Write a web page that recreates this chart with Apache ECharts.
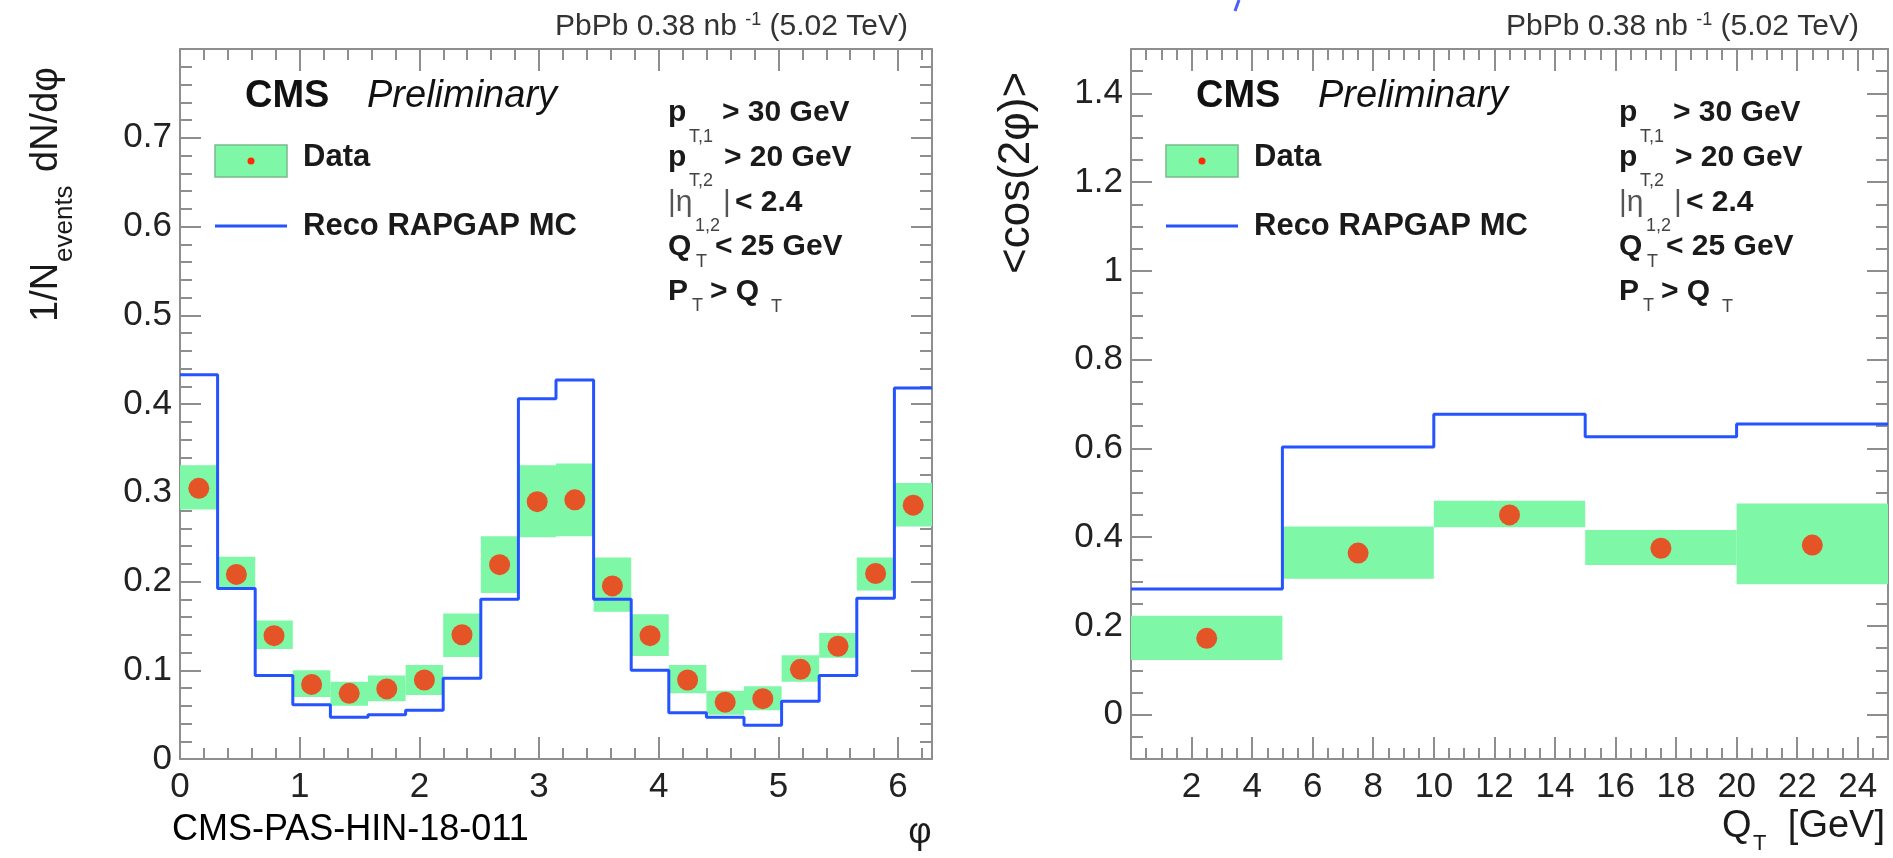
<!DOCTYPE html>
<html><head><meta charset="utf-8">
<script src="https://cdn.jsdelivr.net/npm/echarts@6/dist/echarts.min.js"></script>
<style>html,body{margin:0;padding:0;background:#fff}#c{width:1893px;height:858px}</style>
</head><body><div id="c"></div>
<script>
// ---------------- data ----------------
// left panel: 20 bins in phi over [0, 2pi]
const phiBinCount = 20;
const phiData     = [0.305, 0.208, 0.139, 0.084, 0.074, 0.079, 0.089, 0.140, 0.219, 0.290,
                     0.292, 0.195, 0.139, 0.089, 0.064, 0.068, 0.101, 0.127, 0.209, 0.286];
const phiDataLow  = [0.281, 0.192, 0.124, 0.070, 0.060, 0.065, 0.072, 0.115, 0.187, 0.250,
                     0.251, 0.166, 0.116, 0.074, 0.050, 0.055, 0.087, 0.114, 0.190, 0.262];
const phiDataHigh = [0.331, 0.228, 0.156, 0.100, 0.087, 0.094, 0.106, 0.164, 0.251, 0.331,
                     0.333, 0.227, 0.163, 0.106, 0.077, 0.082, 0.117, 0.142, 0.227, 0.311];
const phiMC       = [0.433, 0.192, 0.094, 0.061, 0.047, 0.050, 0.055, 0.091, 0.180, 0.406,
                     0.427, 0.180, 0.100, 0.052, 0.047, 0.038, 0.065, 0.094, 0.181, 0.418];
const phiXTicks = [0, 1, 2, 3, 4, 5, 6];
const phiYTicks = [0, 0.1, 0.2, 0.3, 0.4, 0.5, 0.6, 0.7];

// right panel: QT bins
const qtEdges    = [0, 5, 10, 15, 20, 25];
const qtData     = [0.172, 0.364, 0.450, 0.375, 0.382];
const qtDataLow  = [0.123, 0.306, 0.422, 0.337, 0.294];
const qtDataHigh = [0.223, 0.424, 0.482, 0.416, 0.476];
const qtMC       = [0.283, 0.603, 0.677, 0.626, 0.655];
const qtXTicks = [2, 4, 6, 8, 10, 12, 14, 16, 18, 20, 22, 24];
const cosYTicks = [0, 0.2, 0.4, 0.6, 0.8, 1, 1.2, 1.4];

// ---------------- helpers ----------------
const FONT = "'Liberation Sans', Arial, Helvetica, sans-serif";
const GRAY = '#8e8e8e';
const GREEN = '#7ef7a7';
const RED = '#ff2a06';
const BLUE = '#2453ff';
const TXT = '#1a1a1a';

const phiEdges = Array.from({length: phiBinCount + 1}, (_, i) => i * 2 * Math.PI / phiBinCount);

function bandRows(edges, lo, hi) { return lo.map((v, i) => [edges[i], edges[i + 1], v, hi[i]]); }
function stepPts(edges, vals) { const p = []; vals.forEach((v, i) => { p.push([edges[i], v], [edges[i + 1], v]); }); return p; }
function centers(edges, vals) { return vals.map((v, i) => [(edges[i] + edges[i + 1]) / 2, v]); }

const ctx = document.createElement('canvas').getContext('2d');
function tw(text, size, o = {}) {
  ctx.font = `${o.italic ? 'italic' : 'normal'} ${o.bold ? 'bold' : 'normal'} ${size}px ${o.family || FONT}`;
  return ctx.measureText(text).width;
}
function T(x, base, text, size, o = {}) {
  return {
    type: 'text', x, y: base, rotation: o.rot || 0, silent: true, z: 100,
    style: {
      text, x: 0, y: -0.35 * size, fill: o.fill || TXT,
      fontSize: size, fontFamily: o.family || FONT,
      fontWeight: o.bold ? 'bold' : 'normal', fontStyle: o.italic ? 'italic' : 'normal',
      align: o.align || 'left', textAlign: o.align || 'left',
      verticalAlign: 'middle', textVerticalAlign: 'middle'
    }
  };
}

function fmt(v) { return String(+(+v).toFixed(3)); }

function xAxes(g, min, max, majors, minorStep, labels) {
  const base = {type: 'value', gridIndex: g, min, max, splitLine: {show: false},
    axisLine: {show: false, onZero: false}, axisLabel: {show: false}, axisTick: {show: false}};
  const line = {show: true, onZero: false, lineStyle: {color: GRAY, width: 2}};
  const tickMaj = {show: true, inside: true, length: 22, customValues: majors, lineStyle: {color: GRAY, width: 2}};
  const tickMin = {show: true, inside: true, length: 11, lineStyle: {color: GRAY, width: 2}};
  return [
    {...base, position: 'bottom', axisLine: line, axisTick: tickMaj,
      axisLabel: {show: true, customValues: labels, formatter: fmt, margin: 11, fontSize: 35, fontFamily: FONT, color: '#222'}},
    {...base, position: 'bottom', interval: minorStep, axisTick: tickMin},
    {...base, position: 'top', axisLine: line, axisTick: tickMaj},
    {...base, position: 'top', interval: minorStep, axisTick: tickMin}
  ];
}
function yAxes(g, min, max, majors, minorStep, labels) {
  const base = {type: 'value', gridIndex: g, min, max, splitLine: {show: false},
    axisLine: {show: false, onZero: false}, axisLabel: {show: false}, axisTick: {show: false}};
  const line = {show: true, onZero: false, lineStyle: {color: GRAY, width: 2}};
  const tickMaj = {show: true, inside: true, length: 21, customValues: majors, lineStyle: {color: GRAY, width: 2}};
  const tickMin = {show: true, inside: true, length: 12, lineStyle: {color: GRAY, width: 2}};
  return [
    {...base, position: 'left', axisLine: line, axisTick: tickMaj,
      axisLabel: {show: true, customValues: labels, formatter: fmt, margin: 8, fontSize: 35, fontFamily: FONT, color: '#222'}},
    {...base, position: 'left', interval: minorStep, axisTick: tickMin},
    {...base, position: 'right', axisLine: line, axisTick: tickMaj},
    {...base, position: 'right', interval: minorStep, axisTick: tickMin}
  ];
}

function seriesFor(g, edges, lo, hi, vals, mc) {
  const ax = 4 * g;
  return [
    {type: 'custom', xAxisIndex: ax, yAxisIndex: ax, z: 2, silent: true,
      data: bandRows(edges, lo, hi), encode: {x: [0, 1], y: [2, 3]},
      renderItem: (params, api) => {
        const a = api.coord([api.value(0), api.value(3)]);
        const b = api.coord([api.value(1), api.value(2)]);
        return {type: 'rect', shape: {x: a[0], y: a[1], width: b[0] - a[0], height: b[1] - a[1]},
          style: {fill: GREEN}};
      }},
    {type: 'line', xAxisIndex: ax, yAxisIndex: ax, z: 3, silent: true, data: stepPts(edges, mc),
      symbol: 'none', lineStyle: {color: BLUE, width: 3}},
    {type: 'scatter', xAxisIndex: ax, yAxisIndex: ax, z: 4, silent: true, data: centers(edges, vals),
      symbol: 'circle', symbolSize: 21, itemStyle: {color: RED}}
  ];
}

// texts for one panel (offset dx relative to left panel)
function panelGraphics(dx) {
  const g = [];
  const end = 908 + dx, tb = 37, fs = 30, ss = 18;
  const a = 'PbPb 0.38 nb ', s = '-1', b = ' (5.02 TeV)';
  const wa = tw(a, fs), ws = tw(s, ss), wb = tw(b, fs);
  const x0 = end - (wa + ws + wb);
  g.push(T(x0, tb, a, fs, {fill: '#333'}));
  g.push(T(x0 + wa, tb - 11, s, ss, {fill: '#333'}));
  g.push(T(x0 + wa + ws, tb, b, fs, {fill: '#333'}));
  g.push(T(245 + dx, 110, 'CMS', 38, {bold: true, fill: '#111'}));
  g.push(T(367 + dx, 110, 'Preliminary', 38, {italic: true, fill: '#111'}));
  g.push({type: 'rect', silent: true, z: 100, shape: {x: 215 + dx, y: 145, width: 72, height: 32},
    style: {fill: GREEN, stroke: '#79b98c', lineWidth: 1.5}});
  g.push({type: 'circle', silent: true, z: 101, shape: {cx: 251 + dx, cy: 161, r: 3.5}, style: {fill: RED}});
  g.push(T(303 + dx, 168, 'Data', 31, {bold: true}));
  g.push({type: 'line', silent: true, z: 100, shape: {x1: 215 + dx, y1: 226, x2: 287 + dx, y2: 226},
    style: {stroke: BLUE, lineWidth: 3}});
  g.push(T(303 + dx, 237, 'Reco RAPGAP MC', 31, {bold: true}));
  const cs = 30, sb = 18, sc = '#444';
  g.push(T(668 + dx, 123, 'p', cs, {bold: true}));
  g.push(T(689 + dx, 143, 'T,1', sb, {fill: sc}));
  g.push(T(722 + dx, 123, '> 30 GeV', cs, {bold: true}));
  g.push(T(668 + dx, 168, 'p', cs, {bold: true}));
  g.push(T(689 + dx, 187, 'T,2', sb, {fill: sc}));
  g.push(T(724 + dx, 168, '> 20 GeV', cs, {bold: true}));
  g.push(T(668 + dx, 213, '|η', cs, {fill: '#555'}));
  g.push(T(695 + dx, 232, '1,2', sb, {fill: sc}));
  g.push(T(723 + dx, 213, '|', cs, {fill: '#555'}));
  g.push(T(735 + dx, 213, '< 2.4', cs, {bold: true}));
  g.push(T(668 + dx, 257, 'Q', cs, {bold: true}));
  g.push(T(696 + dx, 268, 'T', sb, {fill: sc}));
  g.push(T(715 + dx, 257, '< 25 GeV', cs, {bold: true}));
  g.push(T(668 + dx, 302, 'P', cs, {bold: true}));
  g.push(T(692 + dx, 312, 'T', sb, {fill: sc}));
  g.push(T(710 + dx, 302, '> Q', cs, {bold: true}));
  g.push(T(771 + dx, 313, 'T', sb, {fill: sc}));
  return g;
}

function R(ox, oy, lx, ly, text, size, o = {}) {
  return T(ox + ly, oy - lx, text, size, {...o, rot: Math.PI / 2});
}

const graphics = [
  ...panelGraphics(0),
  ...panelGraphics(951),
  R(60, 322, 0, 0, '1/N', 38),
  R(60, 322, 60, 14, 'events', 26),
  R(60, 322, 150, 0, 'dN/dφ', 38),
  R(1032, 274, 0, 0, '<cos(2φ)>', 44),
  T(920, 846, 'φ', 36, {align: 'center'}),
  T(1722, 840, 'Q', 38),
  T(1753, 852, 'T', 22),
  T(1885, 840, '[GeV]', 38, {align: 'right'}),
  T(172, 843, 'CMS-PAS-HIN-18-011', 36, {family: "'Liberation Sans Narrow', 'Liberation Sans', sans-serif", fill: '#000'}),
  {type: 'line', silent: true, z: 100, shape: {x1: 1239, y1: 0, x2: 1235, y2: 11}, style: {stroke: '#4a5cff', lineWidth: 3}}
];

const chart = echarts.init(document.getElementById('c'), null, {renderer: 'canvas'});
chart.setOption({
  animation: false,
  backgroundColor: '#fff',
  grid: [
    {left: 180, top: 49, width: 752, height: 710, containLabel: false},
    {left: 1131, top: 49, width: 757, height: 710, containLabel: false}
  ],
  xAxis: [
    ...xAxes(0, 0, 2 * Math.PI, phiXTicks, 0.2, phiXTicks),
    ...xAxes(1, 0, 25, qtXTicks, 0.5, qtXTicks)
  ],
  yAxis: [
    ...yAxes(0, 0, 0.8, phiYTicks, 0.02, phiYTicks),
    ...yAxes(1, -0.1, 1.5, cosYTicks, 0.05, cosYTicks)
  ],
  series: [
    ...seriesFor(0, phiEdges, phiDataLow, phiDataHigh, phiData, phiMC),
    ...seriesFor(1, qtEdges, qtDataLow, qtDataHigh, qtData, qtMC)
  ],
  graphic: {elements: graphics}
});
</script>
</body></html>
